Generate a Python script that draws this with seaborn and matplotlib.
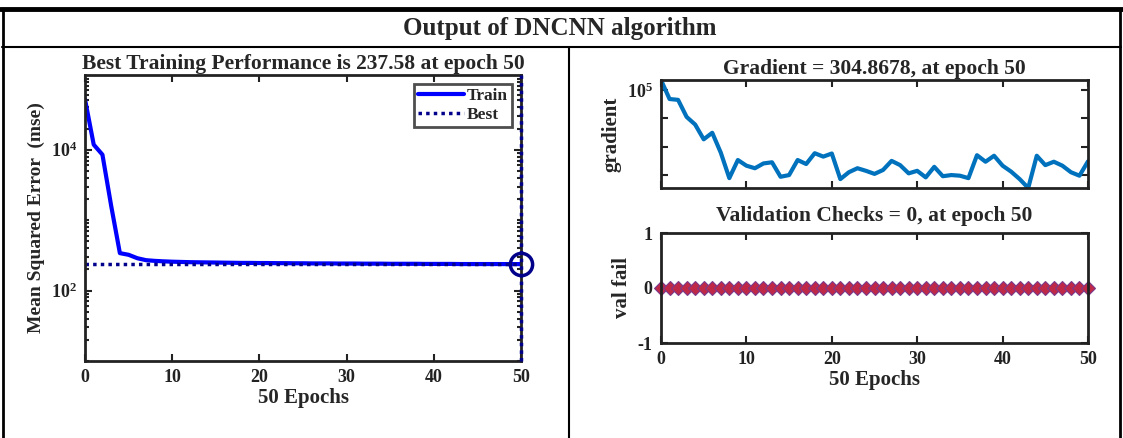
import numpy as np
import pandas as pd
import matplotlib
matplotlib.use("Agg")
import matplotlib.pyplot as plt
import seaborn as sns
from matplotlib.lines import Line2D
from matplotlib.ticker import FixedLocator, NullFormatter, LogLocator

# ---------------- data ----------------
epochs = list(range(51))
train_mse = [52000, 11800, 8500, 1600, 340, 322, 288, 270,
             264, 260, 257, 255, 253, 252, 251, 250, 249, 248, 247, 247,
             246, 246, 245, 245, 244, 244, 243, 243, 243, 242, 242, 242,
             241, 241, 241, 240, 240, 240, 240, 239, 239, 239, 239, 238,
             238, 238, 238, 238, 237.8, 237.7, 237.58]
best_perf = 237.58
best_epoch = 50
gradient = [224000, 47900, 44700, 11200, 6030, 1820, 3090, 617, 78, 339,
            214, 174, 257, 282, 87, 100, 339, 245, 589, 447,
            575, 72, 126, 174, 141, 110, 151, 316, 224, 115,
            141, 83, 195, 91, 100, 95, 78, 501, 295, 479,
            214, 132, 72, 35, 479, 224, 295, 214, 126, 95, 304.8678]
val_fail = [0] * 51

main_title = "Output of DNCNN algorithm"
perf_title = "Best Training Performance is 237.58 at epoch 50"
grad_title = "Gradient = 304.8678, at epoch 50"
val_title = "Validation Checks = 0, at epoch 50"
xticks = [0, 10, 20, 30, 40, 50]

# ---------------- style ----------------
sns.set_theme(style="ticks")
plt.rcParams["font.family"] = ["Liberation Serif", "DejaVu Serif"]
plt.rcParams["font.weight"] = "bold"
plt.rcParams["axes.labelweight"] = "bold"
plt.rcParams["axes.titleweight"] = "bold"
plt.rcParams["axes.unicode_minus"] = False
plt.rcParams["mathtext.fontset"] = "custom"
plt.rcParams["mathtext.rm"] = "Liberation Serif:bold"
plt.rcParams["mathtext.it"] = "Liberation Serif:bold"
plt.rcParams["mathtext.bf"] = "Liberation Serif:bold"

W, H = 1123, 438
fig = plt.figure(figsize=(W / 100, H / 100), dpi=100)
fig.patch.set_facecolor("white")

TITLE_FS = 15.5
LABEL_FS = 15
TICK_FS = 13

def rect(x0, y0, x1, y1):
    return [x0 / W, 1 - y1 / H, (x1 - x0) / W, (y1 - y0) / H]

def style_axes(ax):
    for s in ax.spines.values():
        s.set_linewidth(2)
        s.set_color("#222222")
    ax.tick_params(which="both", direction="in", top=True, right=True,
                   width=1.5, colors="#222222", labelsize=TICK_FS, pad=6)
    ax.tick_params(which="major", length=5)
    ax.tick_params(which="minor", length=3)
    for lab in ax.get_xticklabels() + ax.get_yticklabels():
        lab.set_fontweight("bold")

# ---------------- table borders ----------------
def hline(y, x0, x1, lw):
    fig.add_artist(Line2D([x0 / W, x1 / W], [1 - y / H, 1 - y / H],
                          color="black", lw=lw, transform=fig.transFigure))

def vline(x, y0, y1, lw):
    fig.add_artist(Line2D([x / W, x / W], [1 - y0 / H, 1 - y1 / H],
                          color="black", lw=lw, transform=fig.transFigure))

hline(9, 0, W, 3.5)
hline(47, 2, 1121, 1.5)
vline(2.5, 9, H, 2)
vline(1120, 9, H, 2)
vline(569, 47, H, 1.5)

fig.text(560 / W, 1 - 28 / H, main_title, ha="center", va="center",
         fontsize=18, fontweight="bold")

# ---------------- left: performance ----------------
ax1 = fig.add_axes(rect(85, 75, 521, 361))
sns.lineplot(x=epochs, y=train_mse, ax=ax1, color="#0000ff", lw=3,
             label="Train")
ax1.axhline(best_perf, color="#00008b", lw=2.5, ls=(0, (1, 1.2)), label="Best")
vl = ax1.axvline(best_epoch, color="#00008b", lw=2.5, ls=(0, (1, 1.2)),
                 zorder=6)
vl.set_clip_on(False)
ax1.plot([best_epoch], [best_perf], "o", mfc="none", mec="#00008b",
         ms=16, mew=2.5, clip_on=False, zorder=7)
ax1.set_yscale("log")
ax1.set_xlim(0, 50)
ax1.set_ylim(10, 1.15e5)
ax1.set_xticks(xticks)
ax1.yaxis.set_major_locator(FixedLocator([1e2, 1e4]))
ax1.set_yticklabels([r"$10^{2}$", r"$10^{4}$"])
ax1.yaxis.set_minor_locator(LogLocator(base=10, subs=np.arange(1, 10), numticks=20))
ax1.yaxis.set_minor_formatter(NullFormatter())
ax1.set_title(perf_title, fontsize=TITLE_FS, fontweight="bold", pad=4)
ax1.set_xlabel("50 Epochs", fontsize=LABEL_FS, fontweight="bold", labelpad=1)
ax1.set_ylabel("Mean Squared Error  (mse)", fontsize=14, fontweight="bold")
leg = ax1.legend(loc="upper right", frameon=True, fancybox=False,
                 edgecolor="#222222", handlelength=2.6, handletextpad=0.2,
                 borderpad=0.25, labelspacing=0.15,
                 prop={"weight": "bold", "size": 12.5, "family": "Liberation Serif"})
leg.get_frame().set_linewidth(2)
style_axes(ax1)

# ---------------- right top: gradient ----------------
ax2 = fig.add_axes(rect(661, 80, 1088, 188))
sns.lineplot(x=epochs, y=gradient, ax=ax2, color="#0072bd", lw=3)
ax2.set_yscale("log")
ax2.set_xlim(0, 50)
ax2.set_ylim(min(gradient), max(gradient))
ax2.set_xticks(xticks)
ax2.set_xticklabels([])
ax2.yaxis.set_major_locator(FixedLocator([1e2, 1e3, 1e4, 1e5]))
ax2.set_yticklabels(["", "", "", r"$10^{5}$"])
ax2.yaxis.set_minor_locator(FixedLocator([]))
ax2.set_title(grad_title, fontsize=TITLE_FS, fontweight="bold", pad=4)
ax2.set_ylabel("gradient", fontsize=LABEL_FS, fontweight="bold")
ax2.set_xlabel("")
style_axes(ax2)

# ---------------- right bottom: validation ----------------
ax3 = fig.add_axes(rect(661, 233, 1088, 343))
sns.lineplot(x=epochs, y=val_fail, ax=ax3, color="#5a5ab0", lw=1.5,
             marker="D", markersize=7, markerfacecolor="#c02848",
             markeredgecolor="#7a3a8a", markeredgewidth=0.8)
for l in ax3.lines:
    l.set_clip_on(False)
ax3.set_xlim(0, 50)
ax3.set_ylim(-1, 1)
ax3.set_xticks(xticks)
ax3.set_yticks([-1, 0, 1])
ax3.set_title(val_title, fontsize=TITLE_FS, fontweight="bold", pad=9)
ax3.set_xlabel("50 Epochs", fontsize=LABEL_FS, fontweight="bold", labelpad=1)
ax3.set_ylabel("val fail", fontsize=LABEL_FS, fontweight="bold")
style_axes(ax3)

fig.savefig("out.png", dpi=100, facecolor="white")
